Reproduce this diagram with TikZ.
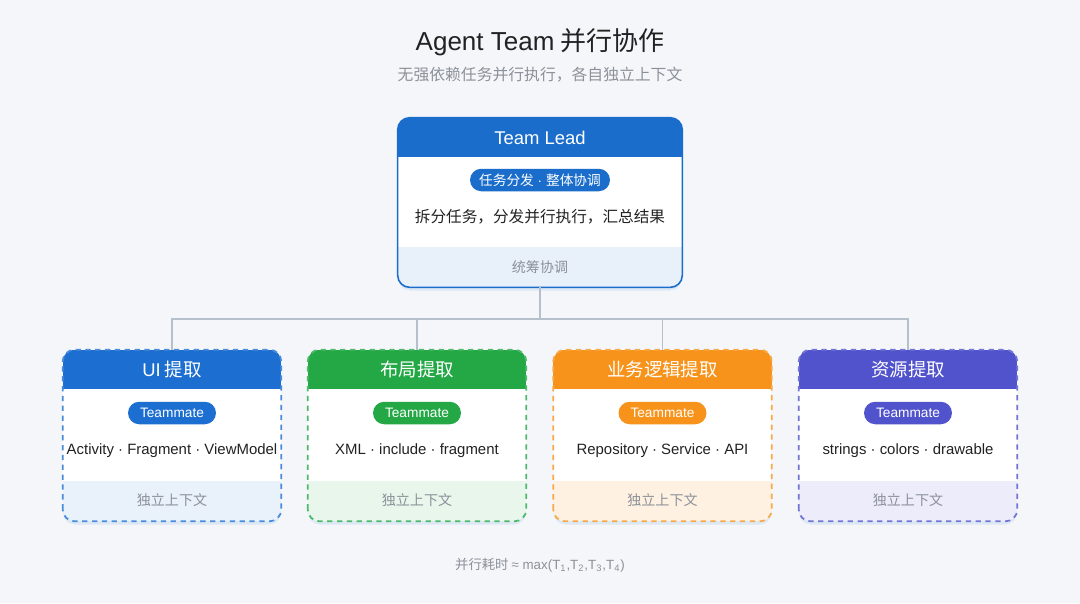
\documentclass[tikz,border=0pt]{standalone}
\usepackage{fontspec}
\setmainfont{Noto Sans CJK SC}
\newfontfamily\latin{Liberation Sans}
\usetikzlibrary{shadows}

\definecolor{leadblue}{HTML}{1A6DCB}
\definecolor{leadlight}{HTML}{E8F0FA}
\definecolor{uiblue}{HTML}{1C6FD1}
\definecolor{uilight}{HTML}{E9F1FB}
\definecolor{layoutgreen}{HTML}{23A845}
\definecolor{layoutlight}{HTML}{E8F6EC}
\definecolor{logicorange}{HTML}{F7931A}
\definecolor{logiclight}{HTML}{FEF1E1}
\definecolor{respurple}{HTML}{5053CB}
\definecolor{reslight}{HTML}{ECECFB}
\definecolor{bggray}{HTML}{F4F6FA}
\definecolor{linegray}{HTML}{B6BFCC}
\definecolor{textdark}{HTML}{222222}
\definecolor{textgray}{HTML}{8C9199}

\newcommand{\dotsep}{{\latin\ ·\ }}

\tikzset{
    cardbase/.style={fill=white, inner sep=0pt, rounded corners=0.24cm,
        drop shadow={opacity=0.10, shadow xshift=0pt, shadow yshift=-2pt, fill=leadblue}},
    border/.style={line width=0.9pt, rounded corners=0.24cm},
    headtext/.style={text=white, inner sep=0pt, font=\fontsize{10.5}{12}\selectfont},
    tag/.style={text=white, inner sep=0pt, minimum height=0.45cm, rounded corners=0.225cm,
        font=\fontsize{7.8}{9}\selectfont},
    bodytext/.style={text=textdark, inner sep=0pt, font=\fontsize{8.5}{10}\selectfont},
    foottext/.style={text=textgray, inner sep=0pt, font=\fontsize{8}{10}\selectfont},
    link/.style={draw=linegray, line width=0.6pt}
}

\newcommand{\teammate}[6]{% name, x, colour, light colour, title, content
    \node[cardbase, minimum width=4.36cm, minimum height=3.42cm] (#1) at (#2,435.5) {};
    \begin{scope}
        \clip[rounded corners=0.24cm] (#1.south west) rectangle (#1.north east);
        \fill[#3] (#1.north west) rectangle ([yshift=-0.78cm]#1.north east);
        \fill[#4] ([yshift=0.8cm]#1.south west) rectangle (#1.south east);
    \end{scope}
    \draw[border, #3!80, line width=1pt, dash pattern=on 3pt off 2.6pt] (#1.south west) rectangle (#1.north east);
    \node[headtext] (#1-head) at (#2,369.5) {#5};
    \node[tag, fill=#3, minimum width=1.76cm] (#1-tag) at (#2,413) {\latin Teammate};
    \node[bodytext] (#1-text) at (#2,451) {\latin #6};
    \node[foottext] (#1-foot) at (#2,500.5) {独立上下文};
}

\begin{document}
\begin{tikzpicture}[x=0.02cm, y=-0.02cm]
        % Background
        \fill[bggray] (0,0) rectangle (1080,603);
        \useasboundingbox (0,0) rectangle (1080,603);

        % Titles
        \node[text=textdark, inner sep=0pt, font=\fontsize{14.8}{17}\selectfont] (title) at (540,42) {{\latin Agent Team} 并行协作};
        \node[text=textgray, inner sep=0pt, font=\fontsize{9}{11}\selectfont] (subtitle) at (540,75) {无强依赖任务并行执行，各自独立上下文};

        % Team lead
        \node[cardbase, minimum width=5.68cm, minimum height=3.38cm] (lead) at (540,202.5) {};
        \begin{scope}
            \clip[rounded corners=0.24cm] (lead.south west) rectangle (lead.north east);
            \fill[leadblue] (lead.north west) rectangle ([yshift=-0.78cm]lead.north east);
            \fill[leadlight] ([yshift=0.8cm]lead.south west) rectangle (lead.south east);
        \end{scope}
        \draw[border, leadblue] (lead.south west) rectangle (lead.north east);
        \node[headtext] (lead-head) at (540,137.5) {\latin Team Lead};
        \node[tag, fill=leadblue, minimum width=2.8cm] (lead-tag) at (540,180) {任务分发\dotsep 整体协调};
        \node[bodytext, font=\fontsize{8.9}{10}\selectfont] (lead-text) at (540,217) {拆分任务，分发并行执行，汇总结果};
        \node[foottext] (lead-foot) at (540,267) {统筹协调};

        % Teammates
        \teammate{ui}{172}{uiblue}{uilight}{{\latin UI} 提取}{Activity · Fragment · ViewModel}
        \teammate{layout}{417}{layoutgreen}{layoutlight}{布局提取}{XML · include · fragment}
        \teammate{logic}{662.5}{logicorange}{logiclight}{业务逻辑提取}{Repository · Service · API}
        \teammate{res}{908}{respurple}{reslight}{资源提取}{strings · colors · drawable}

        % Connectors
        \coordinate (split) at (540,319);
        \draw[link] (lead.south) -- (split);
        \foreach \n in {ui,layout,logic,res}
            \draw[link] (split) -| (\n.north);

        % Note
        \node[text=textgray, inner sep=0pt, font=\fontsize{7.6}{9}\selectfont] (note) at (540,565)
            {并行耗时 {\latin ≈ max(T\textsubscript{1},T\textsubscript{2},T\textsubscript{3},T\textsubscript{4})}};
    \end{tikzpicture}
\end{document}
